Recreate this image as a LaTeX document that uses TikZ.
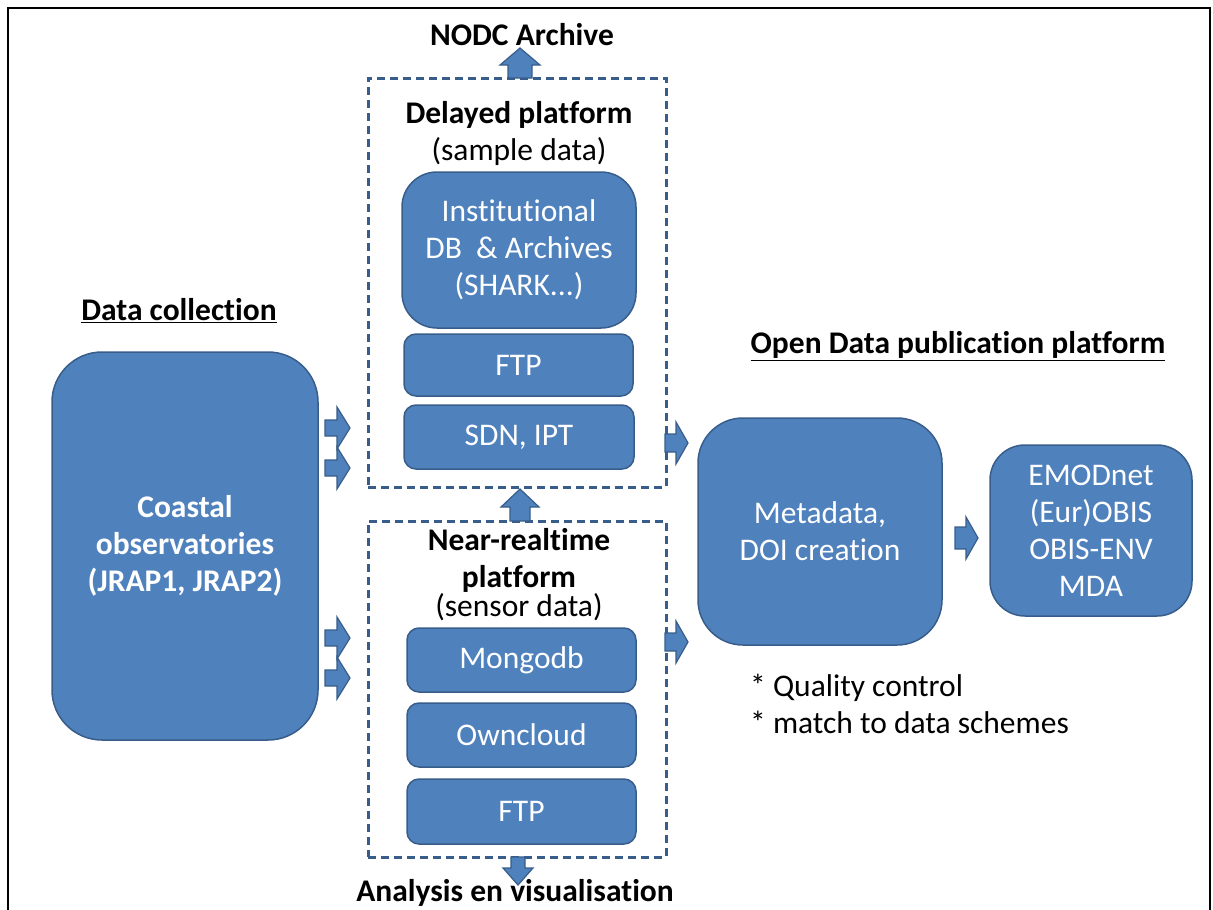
\documentclass[tikz,border=0pt]{standalone}
\usepackage{fontspec}
\setmainfont{Carlito}[Ligatures={NoCommon,NoContextual}]
\definecolor{bleu}{RGB}{79,129,189}
\definecolor{bordure}{RGB}{56,93,138}
\tikzset{
  pics/bloc/.style n args={4}{code={%
    \draw[fill=bleu,draw=bordure,line width=1.2pt,line join=miter]
      (0,-#2) -- (#1-#4,-#2) -- (#1-#4,-#3) -- (#1,0) -- (#1-#4,#3)
      -- (#1-#4,#2) -- (0,#2) -- cycle;
  }}
}
\begin{document}
\begin{tikzpicture}[x=1pt,y=-1pt,
  txt/.style={font=\fontsize{31.5}{37}\selectfont,align=center,inner sep=0pt},
  boite/.style={txt,draw=bordure,fill=bleu,line width=1.5pt,text=white},
  cadre/.style={draw=bordure,line width=3pt,dash pattern=on 8pt off 5pt}]
\useasboundingbox (0,0) rectangle (1213,910);
% cadre general
\draw[line width=2.5pt] (8,912) -- (8,8) -- (1210,8) -- (1210,912);
% collecte des donnees
\node[txt] (titrecollecte) at (179,311) {\underline{\textbf{Data collection}}};
\node[boite,rounded corners=50pt,minimum width=266,minimum height=388] (cotier) at (185,546)
  {\textbf{Coastal}\\\textbf{observatories}\\\textbf{(JRAP1, JRAP2)}};
% plateforme differee
\node[cadre,minimum width=298,minimum height=409] (differe) at (517,282.5) {};
\node[txt] (nodc) at (522,35) {\textbf{NODC Archive}};
\node[txt] (titrediffere) at (519,115) {\textbf{Delayed platform}};
\node[txt] (sousdiffere) at (519,152) {(sample data)};
\node[boite,rounded corners=35pt,minimum width=234,minimum height=156] (instit) at (519,250)
  {Institutional\\DB\ \ \& Archives\\(SHARK...)};
\node[boite,rounded corners=12pt,minimum width=229,minimum height=62] (ftpa) at (518.5,365) {FTP};
\node[boite,rounded corners=12pt,minimum width=230,minimum height=64] (sdn) at (519,437) {SDN, IPT};
% plateforme temps reel
\node[cadre,minimum width=298,minimum height=336] (temps) at (517,689) {};
\node[txt] (titretemps) at (519,560) {\textbf{Near-realtime}\\\textbf{platform}};
\node[txt] (soustemps) at (519,607) {(sensor data)};
\node[boite,rounded corners=12pt,minimum width=229,minimum height=64] (mongo) at (521.5,660) {Mongodb};
\node[boite,rounded corners=12pt,minimum width=229,minimum height=64] (owncloud) at (521.5,735) {Owncloud};
\node[boite,rounded corners=12pt,minimum width=229,minimum height=65] (ftpb) at (521.5,811.5) {FTP};
\node[txt] (analyse) at (515,893) {\textbf{Analysis en visualisation}};
% publication
\node[txt] (titrepubli) at (958,346) {\underline{\textbf{Open Data publication platform}}};
\node[boite,rounded corners=45pt,minimum width=244,minimum height=227] (meta) at (820,531.5)
  {Metadata,\\DOI creation};
\node[boite,rounded corners=35pt,minimum width=202,minimum height=171] (emod) at (1091,530.5)
  {EMODnet\\(Eur)OBIS\\OBIS-ENV\\MDA};
\node[txt,anchor=west,align=left] (qualite) at (750,704)
  {* Quality control\\* match to data schemes};
% fleches
\pic at (325,428) {bloc={25}{8}{21}{13}};
\pic at (325,468) {bloc={25}{8}{21}{13}};
\pic at (325,638) {bloc={25}{8}{21}{13}};
\pic at (325,678) {bloc={25}{8}{21}{13}};
\pic at (665,443) {bloc={23}{9}{21}{12}};
\pic at (665,642) {bloc={23}{9}{21}{12}};
\pic at (955,538) {bloc={23}{11}{21}{12}};
\pic[rotate=90] at (520,78) {bloc={30}{12}{20}{17}};
\pic[rotate=90] at (520,521) {bloc={32}{10}{19}{18}};
\pic[rotate=-90] at (518,857) {bloc={28}{7}{15}{17}};
\end{tikzpicture}
\end{document}
